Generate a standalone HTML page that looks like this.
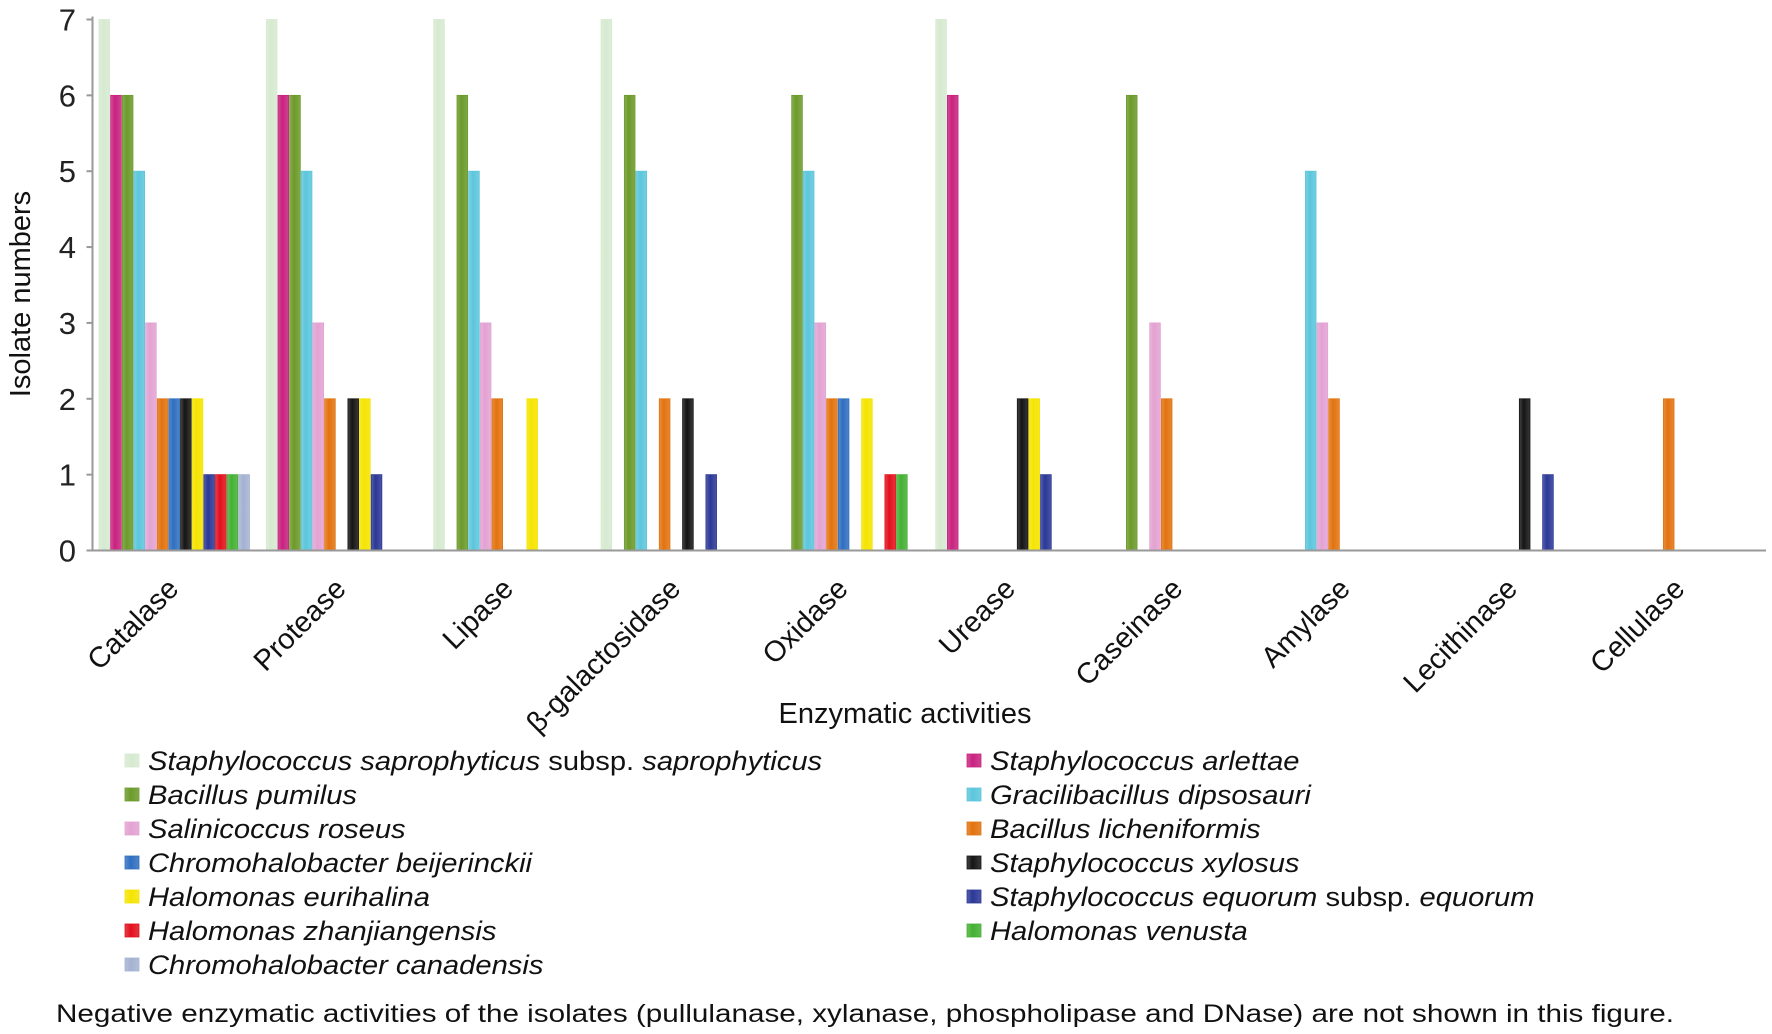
<!DOCTYPE html>
<html><head><meta charset="utf-8">
<style>
html,body{margin:0;padding:0;background:#fff;}
svg{display:block;font-family:"Liberation Sans",Arial,sans-serif;}
</style></head>
<body>
<svg id="chart" width="1772" height="1034" viewBox="0 0 1772 1034">
<defs id="defs"></defs>
<g id="plot"></g>
<g id="axes"></g>
<g id="legend"></g>
<text x="56" y="1022" font-size="25" fill="#111" textLength="1618" lengthAdjust="spacingAndGlyphs">Negative enzymatic activities of the isolates (pullulanase, xylanase, phospholipase and DNase) are not shown in this  figure.</text>
</svg>
<script>
const categories = ["Catalase","Protease","Lipase","β-galactosidase","Oxidase","Urease","Caseinase","Amylase","Lecithinase","Cellulase"];
const seriesNames = [
 ["Staphylococcus saprophyticus"," subsp. ","saprophyticus"],
 ["Staphylococcus arlettae"],
 ["Bacillus pumilus"],
 ["Gracilibacillus dipsosauri"],
 ["Salinicoccus roseus"],
 ["Bacillus licheniformis"],
 ["Chromohalobacter beijerinckii"],
 ["Staphylococcus xylosus"],
 ["Halomonas eurihalina"],
 ["Staphylococcus equorum"," subsp. ","equorum"],
 ["Halomonas zhanjiangensis"],
 ["Halomonas venusta"],
 ["Chromohalobacter canadensis"]
];
const seriesColors = ["#d6ead0","#c8227f","#6c9a2a","#5cc6dc","#e3a2d2","#e2730f","#2f6fbf","#151515","#f5e400","#2b3896","#e2101c","#44b033","#a4b2d2"];
const sSapro   = [7,7,7,7,0,7,0,0,0,0];
const sArl     = [6,6,0,0,0,6,0,0,0,0];
const sPum     = [6,6,6,6,6,0,6,0,0,0];
const sGrac    = [5,5,5,5,5,0,0,5,0,0];
const sSal     = [3,3,3,0,3,0,3,3,0,0];
const sLich    = [2,2,2,2,2,0,2,2,0,2];
const sBeij    = [2,0,0,0,2,0,0,0,0,0];
const sXyl     = [2,2,0,2,0,2,0,0,2,0];
const sEuri    = [2,2,2,0,2,2,0,0,0,0];
const sEquo    = [1,1,0,1,0,1,0,0,1,0];
const sZhan    = [1,0,0,0,1,0,0,0,0,0];
const sVen     = [1,0,0,0,1,0,0,0,0,0];
const sCan     = [1,0,0,0,0,0,0,0,0,0];
const seriesValues = [sSapro,sArl,sPum,sGrac,sSal,sLich,sBeij,sXyl,sEuri,sEquo,sZhan,sVen,sCan];
const yTicks = [0,1,2,3,4,5,6,7];

const NS="http://www.w3.org/2000/svg";
const X0=92.5, X1=1766, Y0=550.5, Y7=19.5, YMAX=7;
const catW=(X1-X0)/categories.length;
const barW=11.65, barOff=6.5;
function yScale(v){return Y0-(Y0-Y7)*v/YMAX;}
function xCat(i){return X0+i*catW;}
function xBar(i,s){return xCat(i)+barOff+s*barW;}
function mk(tag,attrs,parent){const e=document.createElementNS(NS,tag);for(const k in attrs)e.setAttribute(k,attrs[k]);parent.appendChild(e);return e;}

const defs=document.getElementById('defs');
seriesColors.forEach((c,s)=>{
  const g=mk('linearGradient',{id:'g'+s,x1:'0',x2:'1',y1:'0',y2:'0'},defs);
  mk('stop',{offset:'0','stop-color':c,'stop-opacity':'0.8'},g);
  mk('stop',{offset:'0.4','stop-color':c},g);
  mk('stop',{offset:'1','stop-color':c,'stop-opacity':'0.85'},g);
});

const plot=document.getElementById('plot');
seriesValues.forEach((vals,s)=>{
  vals.forEach((v,i)=>{
    if(!v) return;
    const r=mk('rect',{x:xBar(i,s),y:yScale(v),width:barW-1,height:Y0-yScale(v),fill:'url(#g'+s+')',stroke:seriesColors[s],'stroke-width':'0.8'},plot);
    
    
  });
});

const axes=document.getElementById('axes');
const ya=mk('line',{x1:X0,x2:X0,y1:Y7-3,y2:Y0,stroke:'#999','stroke-width':'2'},axes);


const xa=mk('line',{x1:X0-6,x2:X1,y1:Y0,y2:Y0,stroke:'#999','stroke-width':'2'},axes);


yTicks.forEach(t=>{
  const l=mk('line',{x1:X0-6,x2:X0,y1:yScale(t),y2:yScale(t),stroke:'#999','stroke-width':'2'},axes);
  
  
  const tx=mk('text',{x:76,y:yScale(t)+11,'font-size':'31','text-anchor':'end',fill:'#222'},axes);
  tx.textContent=t;
  
  
});
categories.forEach((c,i)=>{
  const cx=xCat(i)+catW/2+4, cy=Y0+40;
  const tx=mk('text',{x:cx,y:cy,'font-size':'29','text-anchor':'end',fill:'#111',transform:'rotate(-45 '+cx+' '+cy+')'},axes);
  tx.textContent=c;
  
  
});
const xt=mk('text',{x:905,y:723,'font-size':'29','text-anchor':'middle',fill:'#111'},axes);
xt.textContent='Enzymatic activities';


const yt=mk('text',{x:0,y:0,'font-size':'29','text-anchor':'middle',fill:'#111',transform:'translate(30 294) rotate(-90)'},axes);
yt.textContent='Isolate numbers';



const legend=document.getElementById('legend');
seriesNames.forEach((nm,s)=>{
  const col=s%2, row=Math.floor(s/2);
  const lx=col===0?125:967, ly=760+row*34;
  const g=mk('g',{},legend);
  
  
  mk('rect',{x:lx,y:ly-6,width:14,height:13,fill:'url(#g'+s+')',stroke:seriesColors[s],'stroke-width':'0.8'},g);
  const tx0=lx+23;
  const t=mk('text',{x:0,y:ly+10,'font-size':'27',fill:'#111',transform:'translate('+tx0+' 0) scale(1.08 1)'},g);
  nm.forEach((part,k)=>{
    const sp=mk('tspan',{'font-style':k===1?'normal':'italic'},t);
    sp.textContent=part;
  });
});
</script>
</body></html>
